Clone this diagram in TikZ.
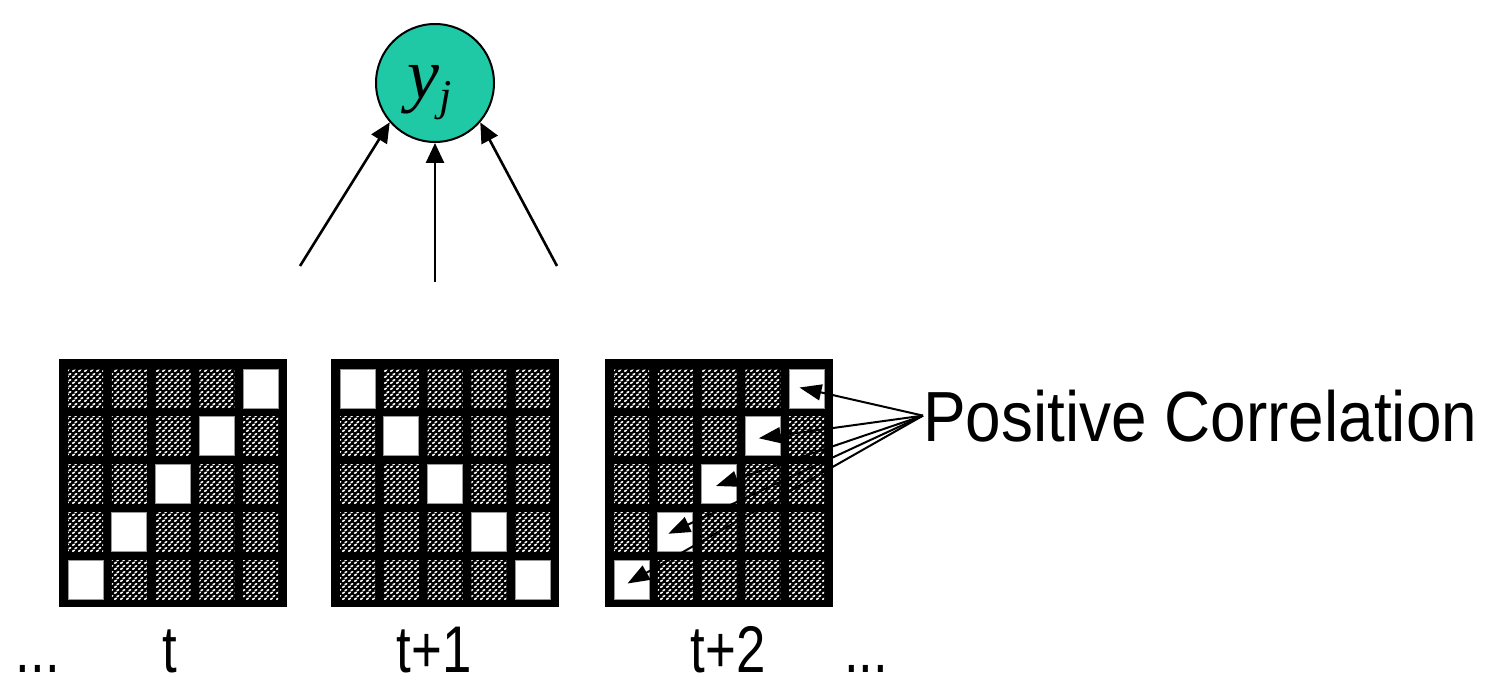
\documentclass[tikz,border=0pt]{standalone}
\usepackage{fontspec}
\usetikzlibrary{arrows.meta,patterns}
\newfontfamily\labfont[FakeStretch=0.9]{Liberation Sans}
\newfontfamily\tlabfont[FakeStretch=0.8]{Liberation Sans}
\newfontfamily\mathserif{Liberation Serif}
\definecolor{teal1}{RGB}{31,201,166}
\pgfdeclarepatternformonly{wavy}{\pgfpointorigin}{\pgfqpoint{6pt}{6pt}}{\pgfqpoint{6pt}{6pt}}{%
  \pgfsetlinewidth{1.8pt}\pgfsetroundcap
  \pgfpathmoveto{\pgfqpoint{0.7pt}{0.9pt}}\pgfpathlineto{\pgfqpoint{2.7pt}{1.9pt}}%
  \pgfpathmoveto{\pgfqpoint{3.5pt}{3.9pt}}\pgfpathlineto{\pgfqpoint{5.3pt}{4.8pt}}%
  \pgfusepath{stroke}}
\tikzset{
  gridsq/.style={fill=black, inner sep=0, minimum width=228pt, minimum height=248pt},
  hcell/.style={pattern=wavy, pattern color=white, inner sep=0, minimum width=35pt, minimum height=39pt},
  wcell/.style={fill=white, draw=black!40, line width=0.6pt, inner sep=0, minimum width=35pt, minimum height=39pt},
  uparr/.style={line width=2.6pt, -{Triangle[length=20pt,width=18pt]}},
  corarr/.style={line width=2pt, -{Triangle[length=22pt,width=16pt]}},
  lab/.style={font=\tlabfont\fontsize{66}{74}\selectfont, inner sep=0, anchor=base},
  plab/.style={font=\labfont\fontsize{71}{80}\selectfont, inner sep=0, anchor=base west},
  unode/.style={circle, fill=teal1, draw=black, line width=2pt, minimum size=118pt, inner sep=0}
}
\begin{document}
\begin{tikzpicture}[x=1pt,y=-1pt]
\useasboundingbox (0,0) rectangle (1495,684);
% output node
\node[unode] (yj) at (435,83) {};
\node[inner sep=0, anchor=base] (yjlab) at (430,99)
  {\mathserif\fontsize{72}{78}\selectfont\itshape y\raisebox{-12pt}{\fontsize{44}{48}\selectfont j}};
% arrow tails
\coordinate (a1) at (300,266);
\coordinate (a2) at (435,282);
\coordinate (a3) at (557,266);
\draw[uparr] (a1) -- (yj.221);
\draw[uparr] (a2) -- (yj.south);
\draw[uparr] (a3) -- (yj.319);
% grids
\foreach \g/\L in {1/59,2/331,3/605}{
  \node[gridsq] (G\g) at (\L+114,483) {};
  \foreach \r in {1,...,5}{
    \foreach \c in {1,...,5}{
      \pgfmathtruncatemacro{\anti}{6-\r}
      \ifnum\g=2
        \ifnum\c=\r\relax\def\cs{wcell}\else\def\cs{hcell}\fi
      \else
        \ifnum\c=\anti\relax\def\cs{wcell}\else\def\cs{hcell}\fi
      \fi
      \node[\cs] (g\g-\r-\c) at ({\L+26.5+(\c-1)*43.75},{388.5+(\r-1)*47.75}) {};
    }
  }
}
% labels
\node[lab] (ldots) at (38,672) {...};
\node[lab] (lt) at (170,672) {t};
\node[lab] (lt1) at (434,672) {t+1};
\node[lab] (lt2) at (728,672) {t+2};
\node[lab] (rdots) at (866,672) {...};
\node[plab] (pc) at (923,441) {Positive Correlation};
% correlation arrows
\draw[corarr] (pc.west) -- ([xshift=-7pt,yshift=1pt]g3-1-5.center);
\draw[corarr] (pc.west) -- ([xshift=-4pt,yshift=-2pt]g3-2-4.center);
\draw[corarr] (pc.west) -- ([xshift=-3pt,yshift=-2pt]g3-3-3.center);
\draw[corarr] (pc.west) -- ([xshift=-7pt,yshift=-2pt]g3-4-2.center);
\draw[corarr] (pc.west) -- ([xshift=-4pt,yshift=-4pt]g3-5-1.center);
\end{tikzpicture}
\end{document}
